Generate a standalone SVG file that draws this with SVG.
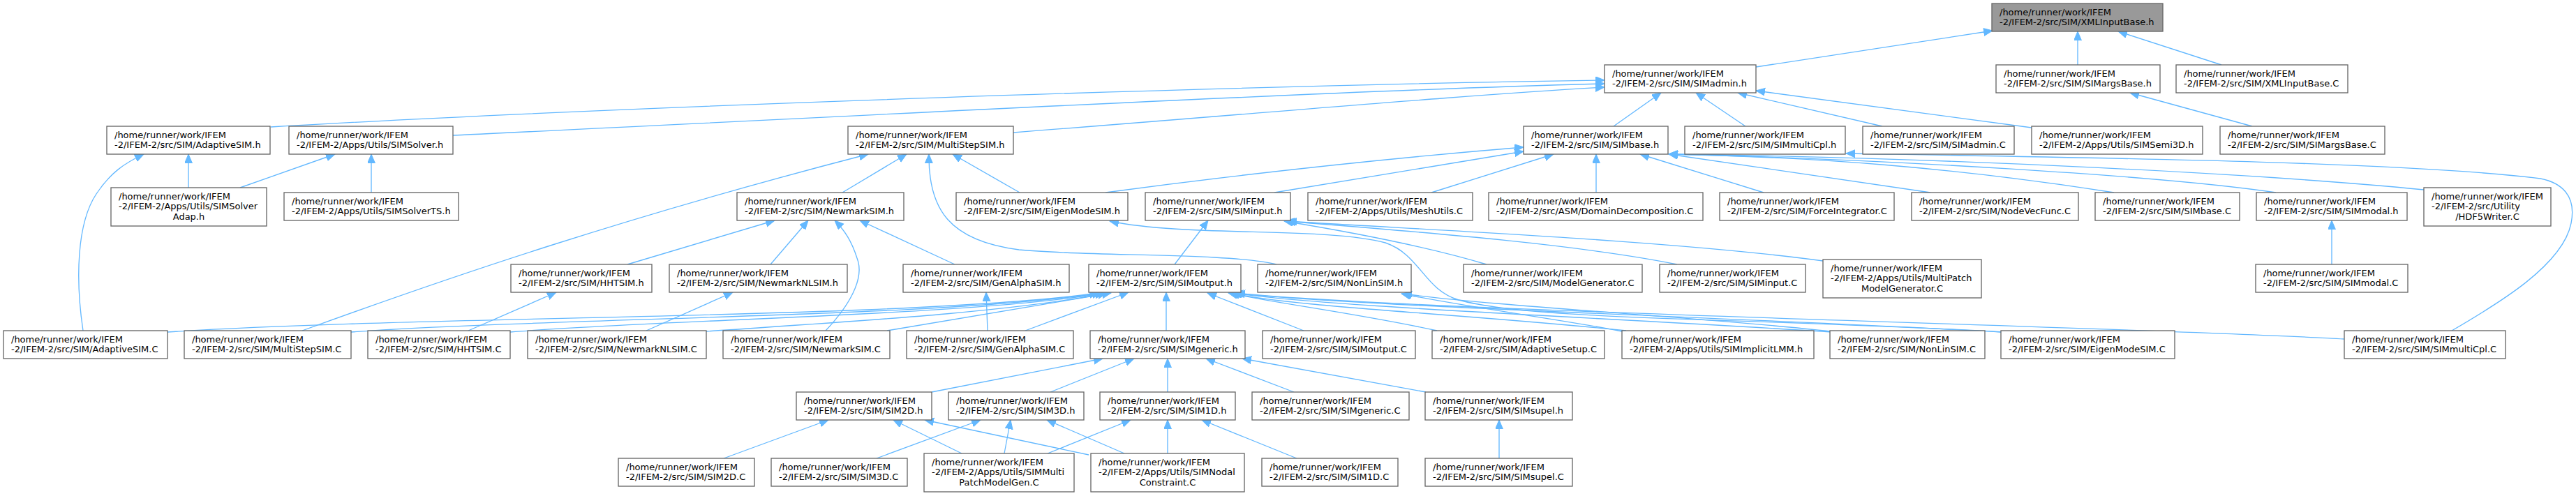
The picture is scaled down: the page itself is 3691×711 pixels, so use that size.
<svg xmlns="http://www.w3.org/2000/svg" width="3691" height="711" viewBox="0 0 3691 711">
<style>
.n rect{fill:#fff;stroke:#666;stroke-width:1.33}
.n.hl rect{fill:#999}
.n text{font-family:"DejaVu Sans",sans-serif;font-size:13px;fill:#000}
.n text.c{text-anchor:middle}
.e path{fill:none;stroke:#63b8ff;stroke-width:1.33;marker-end:url(#a)}
</style>
<defs>
<marker id="a" markerUnits="userSpaceOnUse" markerWidth="14" markerHeight="12" refX="13" refY="5.5" orient="auto">
<path d="M0,0 L13,5.5 L0,11 z" fill="#63b8ff" stroke="#63b8ff" stroke-width="1"/>
</marker>
</defs>
<rect width="3691" height="711" fill="#fff"/>
<g id="edges" class="e">
<path d="M2516,96 L2855,44"/>
<path d="M2977,93 L2977,45"/>
<path d="M3183,93 L3035,45"/>
<path d="M388,182 C900,152 1800,122 2299,115"/>
<path d="M649,194 C1200,168 1900,130 2299,120"/>
<path d="M1452,190 C1800,163 2100,136 2299,125"/>
<path d="M2312,181 L2380,133"/>
<path d="M2501,181 L2430,133"/>
<path d="M2697,181 L2490,133"/>
<path d="M2911,183 L2516,130"/>
<path d="M3227,181 L3052,133"/>
<path d="M270,269 L270,221"/>
<path d="M119,474 C108,400 110,320 138,278 C158,248 178,234 206,221"/>
<path d="M344,269 L480,221"/>
<path d="M532,276 L532,221"/>
<path d="M1207,276 L1299,221"/>
<path d="M1461,276 L1365,221"/>
<path d="M433,474 C650,395 900,310 1244,221"/>
<path d="M1829,379 C1760,362 1560,368 1460,358 C1360,345 1330,300 1331,221"/>
<path d="M1584,276 C1800,247 2000,226 2183,211"/>
<path d="M1826,276 L2183,217"/>
<path d="M2051,276 L2226,221"/>
<path d="M2287,276 L2287,221"/>
<path d="M2527,276 L2350,221"/>
<path d="M2766,276 L2391,221"/>
<path d="M3029,276 C2800,240 2600,225 2391,221"/>
<path d="M3261,276 C3100,252 2700,228 2391,221"/>
<path d="M3473,272 C3250,250 2800,226 2391,221"/>
<path d="M3513,474 C3580,435 3672,380 3684,320 C3692,280 3670,262 3640,256 C3450,232 3000,226 2645,220"/>
<path d="M3341,379 L3341,316"/>
<path d="M1683,379 L1731,316"/>
<path d="M2130,379 C2050,355 1950,335 1840,317"/>
<path d="M2403,379 C2250,348 2000,330 1842,317"/>
<path d="M2612,374 C2400,345 2050,330 1845,317"/>
<path d="M2867,476 C2500,455 2200,460 2090,430 C2040,415 2035,365 1985,348 C1900,325 1700,340 1590,317"/>
<path d="M240,476 C600,452 1300,458 1574,420"/>
<path d="M503,476 C800,455 1350,455 1578,420"/>
<path d="M731,476 C950,458 1400,452 1582,420"/>
<path d="M1012,475 C1200,462 1450,448 1586,420"/>
<path d="M1271,474 L1592,420"/>
<path d="M1469,474 L1617,419"/>
<path d="M1671,474 L1671,419"/>
<path d="M1868,474 L1730,420"/>
<path d="M2059,474 C1950,450 1830,435 1760,420"/>
<path d="M2330,474 C2100,450 1850,440 1763,420"/>
<path d="M2625,476 C2300,455 1900,440 1766,420"/>
<path d="M2870,476 C2500,455 1950,440 1768,420"/>
<path d="M3359,486 C3100,470 2000,445 1771,420"/>
<path d="M2622,475 C2450,455 2150,440 2010,421"/>
<path d="M2324,475 C2250,460 2100,440 2008,421"/>
<path d="M1335,562 L1580,514"/>
<path d="M1505,562 L1625,514"/>
<path d="M1673,562 L1673,514"/>
<path d="M1854,562 L1728,514"/>
<path d="M2043,562 L1780,514"/>
<path d="M1037,657 L1187,602"/>
<path d="M1256,657 L1405,602"/>
<path d="M1378,650 L1280,602"/>
<path d="M1439,650 L1448,602"/>
<path d="M1501,650 L1620,602"/>
<path d="M1560,652 L1325,602"/>
<path d="M1611,650 L1500,602"/>
<path d="M1673,650 L1673,602"/>
<path d="M1858,657 L1722,602"/>
<path d="M2148,657 L2148,602"/>
<path d="M1415,474 L1413,419"/>
<path d="M671,474 L797,419"/>
<path d="M926,474 L1050,419"/>
<path d="M899,379 L1110,316"/>
<path d="M1104,379 L1158,316"/>
<path d="M1183,474 C1215,440 1240,400 1228,370 C1220,345 1210,330 1196,316"/>
<path d="M1368,379 L1232,316"/>
</g>
<g id="xmlinputbase_h" class="n hl"><rect x="2854" y="5" width="245" height="40"/><text x="2865" y="22">/home/runner/work/IFEM</text><text x="2865" y="36">-2/IFEM-2/src/SIM/XMLInputBase.h</text></g>
<g id="simadmin_h" class="n"><rect x="2299" y="93" width="217" height="40"/><text x="2310" y="110">/home/runner/work/IFEM</text><text x="2310" y="124">-2/IFEM-2/src/SIM/SIMadmin.h</text></g>
<g id="simargsbase_h" class="n"><rect x="2860" y="93" width="235" height="40"/><text x="2871" y="110">/home/runner/work/IFEM</text><text x="2871" y="124">-2/IFEM-2/src/SIM/SIMargsBase.h</text></g>
<g id="xmlinputbase_c" class="n"><rect x="3118" y="93" width="246" height="40"/><text x="3129" y="110">/home/runner/work/IFEM</text><text x="3129" y="124">-2/IFEM-2/src/SIM/XMLInputBase.C</text></g>
<g id="adaptivesim_h" class="n"><rect x="153" y="181" width="234" height="40"/><text x="164" y="198">/home/runner/work/IFEM</text><text x="164" y="212">-2/IFEM-2/src/SIM/AdaptiveSIM.h</text></g>
<g id="simsolver_h" class="n"><rect x="414" y="181" width="235" height="40"/><text x="425" y="198">/home/runner/work/IFEM</text><text x="425" y="212">-2/IFEM-2/Apps/Utils/SIMSolver.h</text></g>
<g id="multistepsim_h" class="n"><rect x="1215" y="181" width="237" height="40"/><text x="1226" y="198">/home/runner/work/IFEM</text><text x="1226" y="212">-2/IFEM-2/src/SIM/MultiStepSIM.h</text></g>
<g id="simbase_h" class="n"><rect x="2183" y="181" width="207" height="40"/><text x="2194" y="198">/home/runner/work/IFEM</text><text x="2194" y="212">-2/IFEM-2/src/SIM/SIMbase.h</text></g>
<g id="simmulticpl_h" class="n"><rect x="2414" y="181" width="230" height="40"/><text x="2425" y="198">/home/runner/work/IFEM</text><text x="2425" y="212">-2/IFEM-2/src/SIM/SIMmultiCpl.h</text></g>
<g id="simadmin_c" class="n"><rect x="2669" y="181" width="217" height="40"/><text x="2680" y="198">/home/runner/work/IFEM</text><text x="2680" y="212">-2/IFEM-2/src/SIM/SIMadmin.C</text></g>
<g id="simsemi3d_h" class="n"><rect x="2911" y="181" width="245" height="40"/><text x="2922" y="198">/home/runner/work/IFEM</text><text x="2922" y="212">-2/IFEM-2/Apps/Utils/SIMSemi3D.h</text></g>
<g id="simargsbase_c" class="n"><rect x="3181" y="181" width="236" height="40"/><text x="3192" y="198">/home/runner/work/IFEM</text><text x="3192" y="212">-2/IFEM-2/src/SIM/SIMargsBase.C</text></g>
<g id="simsolveradap_h" class="n"><rect x="159" y="269" width="223" height="55"/><text x="170" y="286">/home/runner/work/IFEM</text><text x="170" y="300">-2/IFEM-2/Apps/Utils/SIMSolver</text><text class="c" x="270.5" y="315">Adap.h</text></g>
<g id="simsolverts_h" class="n"><rect x="407" y="276" width="250" height="40"/><text x="418" y="293">/home/runner/work/IFEM</text><text x="418" y="307">-2/IFEM-2/Apps/Utils/SIMSolverTS.h</text></g>
<g id="newmarksim_h" class="n"><rect x="1056" y="276" width="239" height="40"/><text x="1067" y="293">/home/runner/work/IFEM</text><text x="1067" y="307">-2/IFEM-2/src/SIM/NewmarkSIM.h</text></g>
<g id="eigenmodesim_h" class="n"><rect x="1370" y="276" width="246" height="40"/><text x="1381" y="293">/home/runner/work/IFEM</text><text x="1381" y="307">-2/IFEM-2/src/SIM/EigenModeSIM.h</text></g>
<g id="siminput_h" class="n"><rect x="1641" y="276" width="208" height="40"/><text x="1652" y="293">/home/runner/work/IFEM</text><text x="1652" y="307">-2/IFEM-2/src/SIM/SIMinput.h</text></g>
<g id="meshutils_c" class="n"><rect x="1874" y="276" width="236" height="40"/><text x="1885" y="293">/home/runner/work/IFEM</text><text x="1885" y="307">-2/IFEM-2/Apps/Utils/MeshUtils.C</text></g>
<g id="domaindecomposition_c" class="n"><rect x="2133" y="276" width="307" height="40"/><text x="2144" y="293">/home/runner/work/IFEM</text><text x="2144" y="307">-2/IFEM-2/src/ASM/DomainDecomposition.C</text></g>
<g id="forceintegrator_c" class="n"><rect x="2464" y="276" width="250" height="40"/><text x="2475" y="293">/home/runner/work/IFEM</text><text x="2475" y="307">-2/IFEM-2/src/SIM/ForceIntegrator.C</text></g>
<g id="nodevecfunc_c" class="n"><rect x="2739" y="276" width="239" height="40"/><text x="2750" y="293">/home/runner/work/IFEM</text><text x="2750" y="307">-2/IFEM-2/src/SIM/NodeVecFunc.C</text></g>
<g id="simbase_c" class="n"><rect x="3002" y="276" width="207" height="40"/><text x="3013" y="293">/home/runner/work/IFEM</text><text x="3013" y="307">-2/IFEM-2/src/SIM/SIMbase.C</text></g>
<g id="simmodal_h" class="n"><rect x="3233" y="276" width="216" height="40"/><text x="3244" y="293">/home/runner/work/IFEM</text><text x="3244" y="307">-2/IFEM-2/src/SIM/SIMmodal.h</text></g>
<g id="hdf5writer_c" class="n"><rect x="3473" y="269" width="182" height="55"/><text x="3484" y="286">/home/runner/work/IFEM</text><text x="3484" y="300">-2/IFEM-2/src/Utility</text><text class="c" x="3564" y="315">/HDF5Writer.C</text></g>
<g id="hhtsim_h" class="n"><rect x="732" y="379" width="202" height="40"/><text x="743" y="396">/home/runner/work/IFEM</text><text x="743" y="410">-2/IFEM-2/src/SIM/HHTSIM.h</text></g>
<g id="newmarknlsim_h" class="n"><rect x="959" y="379" width="255" height="40"/><text x="970" y="396">/home/runner/work/IFEM</text><text x="970" y="410">-2/IFEM-2/src/SIM/NewmarkNLSIM.h</text></g>
<g id="genalphasim_h" class="n"><rect x="1294" y="379" width="238" height="40"/><text x="1305" y="396">/home/runner/work/IFEM</text><text x="1305" y="410">-2/IFEM-2/src/SIM/GenAlphaSIM.h</text></g>
<g id="simoutput_h" class="n"><rect x="1560" y="379" width="218" height="40"/><text x="1571" y="396">/home/runner/work/IFEM</text><text x="1571" y="410">-2/IFEM-2/src/SIM/SIMoutput.h</text></g>
<g id="nonlinsim_h" class="n"><rect x="1802" y="379" width="220" height="40"/><text x="1813" y="396">/home/runner/work/IFEM</text><text x="1813" y="410">-2/IFEM-2/src/SIM/NonLinSIM.h</text></g>
<g id="modelgenerator_c" class="n"><rect x="2097" y="379" width="256" height="40"/><text x="2108" y="396">/home/runner/work/IFEM</text><text x="2108" y="410">-2/IFEM-2/src/SIM/ModelGenerator.C</text></g>
<g id="siminput_c" class="n"><rect x="2378" y="379" width="209" height="40"/><text x="2389" y="396">/home/runner/work/IFEM</text><text x="2389" y="410">-2/IFEM-2/src/SIM/SIMinput.C</text></g>
<g id="multipatchmodelgenerator_c" class="n"><rect x="2612" y="372" width="227" height="55"/><text x="2623" y="389">/home/runner/work/IFEM</text><text x="2623" y="403">-2/IFEM-2/Apps/Utils/MultiPatch</text><text class="c" x="2725.5" y="418">ModelGenerator.C</text></g>
<g id="simmodal_c" class="n"><rect x="3232" y="379" width="218" height="40"/><text x="3243" y="396">/home/runner/work/IFEM</text><text x="3243" y="410">-2/IFEM-2/src/SIM/SIMmodal.C</text></g>
<g id="adaptivesim_c" class="n"><rect x="5" y="474" width="235" height="40"/><text x="16" y="491">/home/runner/work/IFEM</text><text x="16" y="505">-2/IFEM-2/src/SIM/AdaptiveSIM.C</text></g>
<g id="multistepsim_c" class="n"><rect x="264" y="474" width="239" height="40"/><text x="275" y="491">/home/runner/work/IFEM</text><text x="275" y="505">-2/IFEM-2/src/SIM/MultiStepSIM.C</text></g>
<g id="hhtsim_c" class="n"><rect x="527" y="474" width="204" height="40"/><text x="538" y="491">/home/runner/work/IFEM</text><text x="538" y="505">-2/IFEM-2/src/SIM/HHTSIM.C</text></g>
<g id="newmarknlsim_c" class="n"><rect x="756" y="474" width="256" height="40"/><text x="767" y="491">/home/runner/work/IFEM</text><text x="767" y="505">-2/IFEM-2/src/SIM/NewmarkNLSIM.C</text></g>
<g id="newmarksim_c" class="n"><rect x="1036" y="474" width="239" height="40"/><text x="1047" y="491">/home/runner/work/IFEM</text><text x="1047" y="505">-2/IFEM-2/src/SIM/NewmarkSIM.C</text></g>
<g id="genalphasim_c" class="n"><rect x="1299" y="474" width="239" height="40"/><text x="1310" y="491">/home/runner/work/IFEM</text><text x="1310" y="505">-2/IFEM-2/src/SIM/GenAlphaSIM.C</text></g>
<g id="simgeneric_h" class="n"><rect x="1562" y="474" width="222" height="40"/><text x="1573" y="491">/home/runner/work/IFEM</text><text x="1573" y="505">-2/IFEM-2/src/SIM/SIMgeneric.h</text></g>
<g id="simoutput_c" class="n"><rect x="1809" y="474" width="219" height="40"/><text x="1820" y="491">/home/runner/work/IFEM</text><text x="1820" y="505">-2/IFEM-2/src/SIM/SIMoutput.C</text></g>
<g id="adaptivesetup_c" class="n"><rect x="2052" y="474" width="247" height="40"/><text x="2063" y="491">/home/runner/work/IFEM</text><text x="2063" y="505">-2/IFEM-2/src/SIM/AdaptiveSetup.C</text></g>
<g id="simimplicitlmm_h" class="n"><rect x="2324" y="474" width="275" height="40"/><text x="2335" y="491">/home/runner/work/IFEM</text><text x="2335" y="505">-2/IFEM-2/Apps/Utils/SIMImplicitLMM.h</text></g>
<g id="nonlinsim_c" class="n"><rect x="2622" y="474" width="222" height="40"/><text x="2633" y="491">/home/runner/work/IFEM</text><text x="2633" y="505">-2/IFEM-2/src/SIM/NonLinSIM.C</text></g>
<g id="eigenmodesim_c" class="n"><rect x="2867" y="474" width="249" height="40"/><text x="2878" y="491">/home/runner/work/IFEM</text><text x="2878" y="505">-2/IFEM-2/src/SIM/EigenModeSIM.C</text></g>
<g id="simmulticpl_c" class="n"><rect x="3359" y="474" width="231" height="40"/><text x="3370" y="491">/home/runner/work/IFEM</text><text x="3370" y="505">-2/IFEM-2/src/SIM/SIMmultiCpl.C</text></g>
<g id="sim2d_h" class="n"><rect x="1141" y="562" width="194" height="40"/><text x="1152" y="579">/home/runner/work/IFEM</text><text x="1152" y="593">-2/IFEM-2/src/SIM/SIM2D.h</text></g>
<g id="sim3d_h" class="n"><rect x="1359" y="562" width="194" height="40"/><text x="1370" y="579">/home/runner/work/IFEM</text><text x="1370" y="593">-2/IFEM-2/src/SIM/SIM3D.h</text></g>
<g id="sim1d_h" class="n"><rect x="1576" y="562" width="194" height="40"/><text x="1587" y="579">/home/runner/work/IFEM</text><text x="1587" y="593">-2/IFEM-2/src/SIM/SIM1D.h</text></g>
<g id="simgeneric_c" class="n"><rect x="1794" y="562" width="225" height="40"/><text x="1805" y="579">/home/runner/work/IFEM</text><text x="1805" y="593">-2/IFEM-2/src/SIM/SIMgeneric.C</text></g>
<g id="simsupel_h" class="n"><rect x="2042" y="562" width="211" height="40"/><text x="2053" y="579">/home/runner/work/IFEM</text><text x="2053" y="593">-2/IFEM-2/src/SIM/SIMsupel.h</text></g>
<g id="sim2d_c" class="n"><rect x="886" y="657" width="195" height="40"/><text x="897" y="674">/home/runner/work/IFEM</text><text x="897" y="688">-2/IFEM-2/src/SIM/SIM2D.C</text></g>
<g id="sim3d_c" class="n"><rect x="1105" y="657" width="195" height="40"/><text x="1116" y="674">/home/runner/work/IFEM</text><text x="1116" y="688">-2/IFEM-2/src/SIM/SIM3D.C</text></g>
<g id="simmultipatchmodelgen_c" class="n"><rect x="1324" y="650" width="215" height="55"/><text x="1335" y="667">/home/runner/work/IFEM</text><text x="1335" y="681">-2/IFEM-2/Apps/Utils/SIMMulti</text><text class="c" x="1431.5" y="696">PatchModelGen.C</text></g>
<g id="simnodalconstraint_c" class="n"><rect x="1563" y="650" width="220" height="55"/><text x="1574" y="667">/home/runner/work/IFEM</text><text x="1574" y="681">-2/IFEM-2/Apps/Utils/SIMNodal</text><text class="c" x="1673" y="696">Constraint.C</text></g>
<g id="sim1d_c" class="n"><rect x="1808" y="657" width="195" height="40"/><text x="1819" y="674">/home/runner/work/IFEM</text><text x="1819" y="688">-2/IFEM-2/src/SIM/SIM1D.C</text></g>
<g id="simsupel_c" class="n"><rect x="2042" y="657" width="211" height="40"/><text x="2053" y="674">/home/runner/work/IFEM</text><text x="2053" y="688">-2/IFEM-2/src/SIM/SIMsupel.C</text></g>
</svg>
